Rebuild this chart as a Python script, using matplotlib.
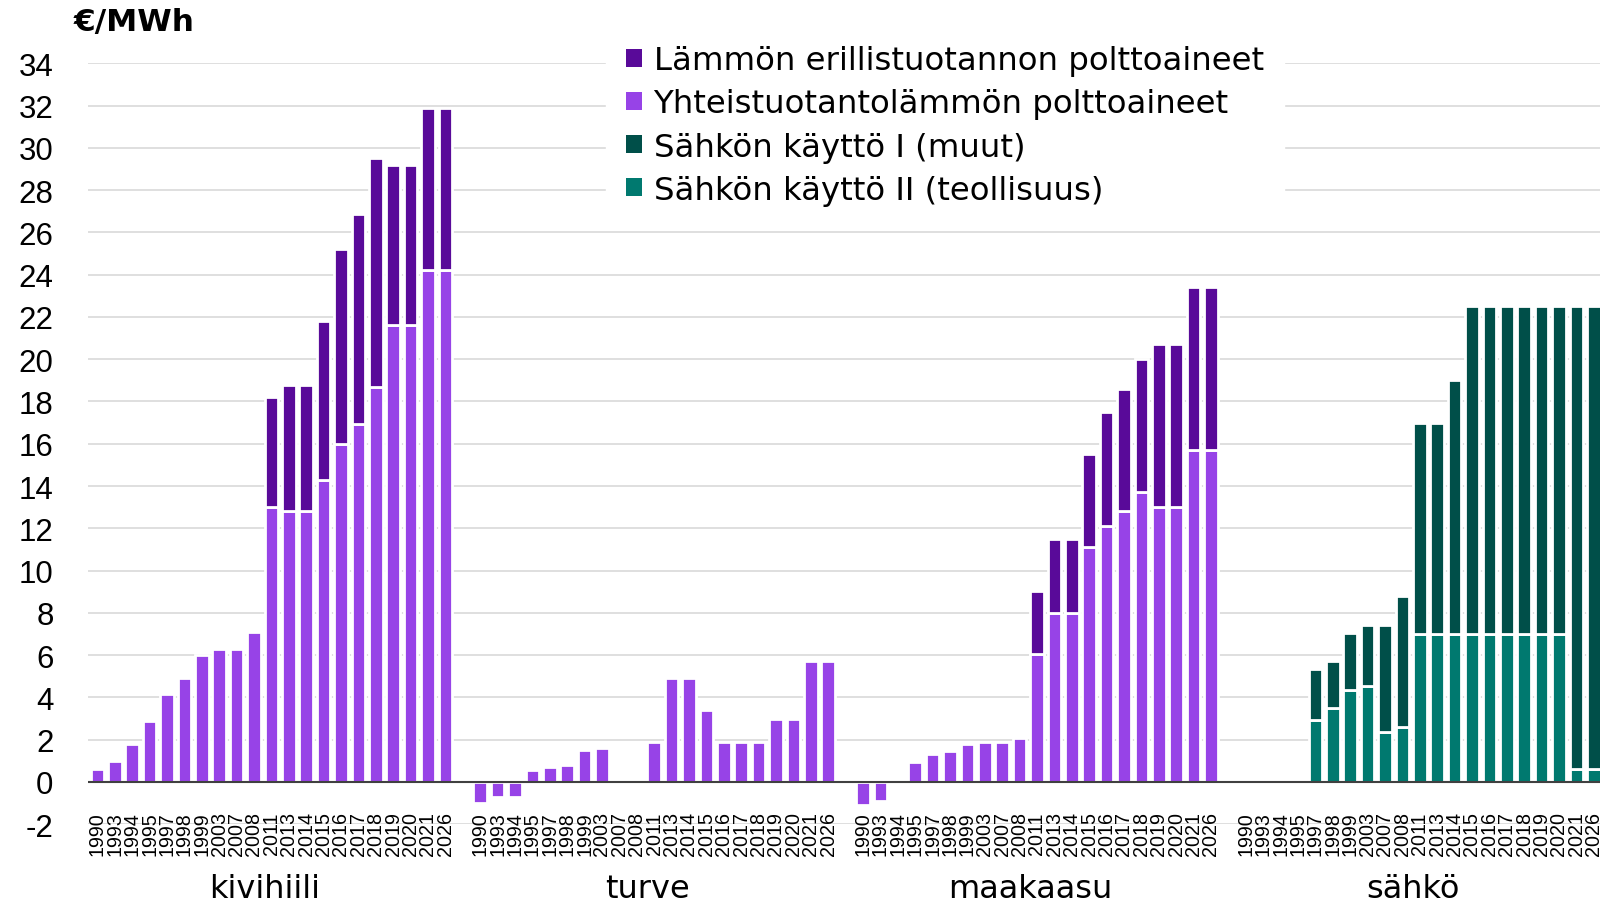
import matplotlib
matplotlib.use('Agg')
import matplotlib.pyplot as plt
from matplotlib.patches import Patch
from matplotlib.transforms import blended_transform_factory
import numpy as np

years = ['1990', '1993', '1994', '1995', '1997', '1998', '1999', '2003', '2007', '2008',
         '2011', '2013', '2014', '2015', '2016', '2017', '2018', '2019', '2020', '2021', '2026']
groups = ['kivihiili', 'turve', 'maakaasu', 'sähkö']

series_names = ['Lämmön erillistuotannon polttoaineet', 'Yhteistuotantolämmön polttoaineet',
                'Sähkön käyttö I (muut)', 'Sähkön käyttö II (teollisuus)']
colors = ['#590a99', '#9743e7', '#004f49', '#00796f']

kivihiili_yhteis = [0.6, 1.0, 1.8, 2.9, 4.15, 4.9, 6.0, 6.3, 6.3, 7.1,
                    13.0, 12.8, 12.8, 14.3, 16.0, 16.95, 18.7, 21.6, 21.6, 24.2, 24.2]
kivihiili_erillis = [0, 0, 0, 0, 0, 0, 0, 0, 0, 0,
                     5.2, 6.0, 6.0, 7.5, 9.2, 9.9, 10.8, 7.6, 7.6, 7.7, 7.7]
turve_yhteis = [-1.0, -0.7, -0.7, 0.55, 0.7, 0.8, 1.5, 1.6, 0, 0,
                1.9, 4.9, 4.9, 3.4, 1.9, 1.9, 1.9, 3.0, 3.0, 5.7, 5.7]
turve_erillis = [0] * 21
maakaasu_yhteis = [-1.1, -0.9, 0, 0.95, 1.3, 1.45, 1.8, 1.9, 1.9, 2.1,
                   6.05, 8.0, 8.0, 11.1, 12.1, 12.8, 13.7, 13.0, 13.0, 15.7, 15.7]
maakaasu_erillis = [0, 0, 0, 0, 0, 0, 0, 0, 0, 0,
                    3.0, 3.5, 3.5, 4.4, 5.4, 5.8, 6.3, 7.7, 7.7, 7.7, 7.7]
sahko_II = [0, 0, 0, 0, 2.95, 3.5, 4.33, 4.53, 2.34, 2.62,
            7.0, 7.0, 7.0, 7.0, 7.0, 7.0, 7.0, 7.0, 7.0, 0.62, 0.62]
sahko_I = [0, 0, 0, 0, 2.4, 2.2, 2.7, 2.9, 5.1, 6.2,
           10.0, 10.0, 12.0, 15.5, 15.5, 15.5, 15.5, 15.5, 15.5, 21.9, 21.9]

yticks = list(range(-2, 35, 2))

fig = plt.figure(figsize=(16, 9.03), dpi=100)
ax = fig.add_axes([88.3 / 1600, 1 - 825.2 / 903, 1 - 88.3 / 1600, (825.2 - 64.3) / 903])

n = len(years)
slot = n + 1
BW = 0.78
EW = 2.0


def draw(xs, vals, bottoms, color):
    vals = np.asarray(vals, float)
    bottoms = np.asarray(bottoms, float)
    m = vals != 0
    ax.bar(np.asarray(xs)[m], vals[m], bottom=bottoms[m], width=BW, color=color,
           edgecolor='white', linewidth=EW, zorder=2)


stacks = [
    (kivihiili_yhteis, kivihiili_erillis, colors[1], colors[0]),
    (turve_yhteis, turve_erillis, colors[1], colors[0]),
    (maakaasu_yhteis, maakaasu_erillis, colors[1], colors[0]),
    (sahko_II, sahko_I, colors[3], colors[2]),
]

for gi, (low, high, c_low, c_high) in enumerate(stacks):
    xs = np.arange(n) + gi * slot
    low_a = np.asarray(low, float)
    draw(xs, low_a, np.zeros(n), c_low)
    draw(xs, high, np.clip(low_a, 0, None), c_high)

ax.set_xlim(-0.52, 86.36)
ax.set_ylim(-2, 34)
ax.set_yticks(yticks)
ax.set_yticklabels([str(v) for v in yticks], fontsize=22.5, family='Liberation Sans')
ax.tick_params(axis='y', length=0, pad=25)
ax.set_xticks([])
for s in ax.spines.values():
    s.set_visible(False)
ax.yaxis.grid(True, color='#d9d9d9', linewidth=1.2, zorder=0)
ax.set_axisbelow(True)
ax.axhline(0, color='#404040', linewidth=1.5, zorder=3)

trans = blended_transform_factory(ax.transData, ax.transAxes)
for gi, g in enumerate(groups):
    for j, y in enumerate(years):
        ax.text(gi * slot + j, 0.017, y, rotation=90, ha='center', va='top',
                fontsize=14.2, family='Liberation Sans', transform=trans)
    ax.text(gi * slot + (n - 1) / 2 - 0.4, -0.085, g, ha='center', va='center',
            fontsize=23, family='DejaVu Sans', transform=trans)

fig.text(74 / 1600, 1 - 22 / 903, '€/MWh', fontsize=22.5, fontweight='bold',
         family='DejaVu Sans', ha='left', va='center')

handles = [Patch(facecolor=c, edgecolor='none') for c in colors]
leg = fig.legend(handles, series_names, loc='upper left', bbox_to_anchor=(606 / 1600, 1 - 26 / 903),
                 frameon=True, fancybox=False, facecolor='white', edgecolor='white', framealpha=1,
                 prop={'family': 'DejaVu Sans', 'size': 23.3}, handlelength=0.48, handleheight=0.48,
                 handletextpad=0.37, labelspacing=0.38, borderpad=0.62, borderaxespad=0)
leg.set_zorder(5)

fig.savefig('out.png', dpi=100, facecolor='white')
